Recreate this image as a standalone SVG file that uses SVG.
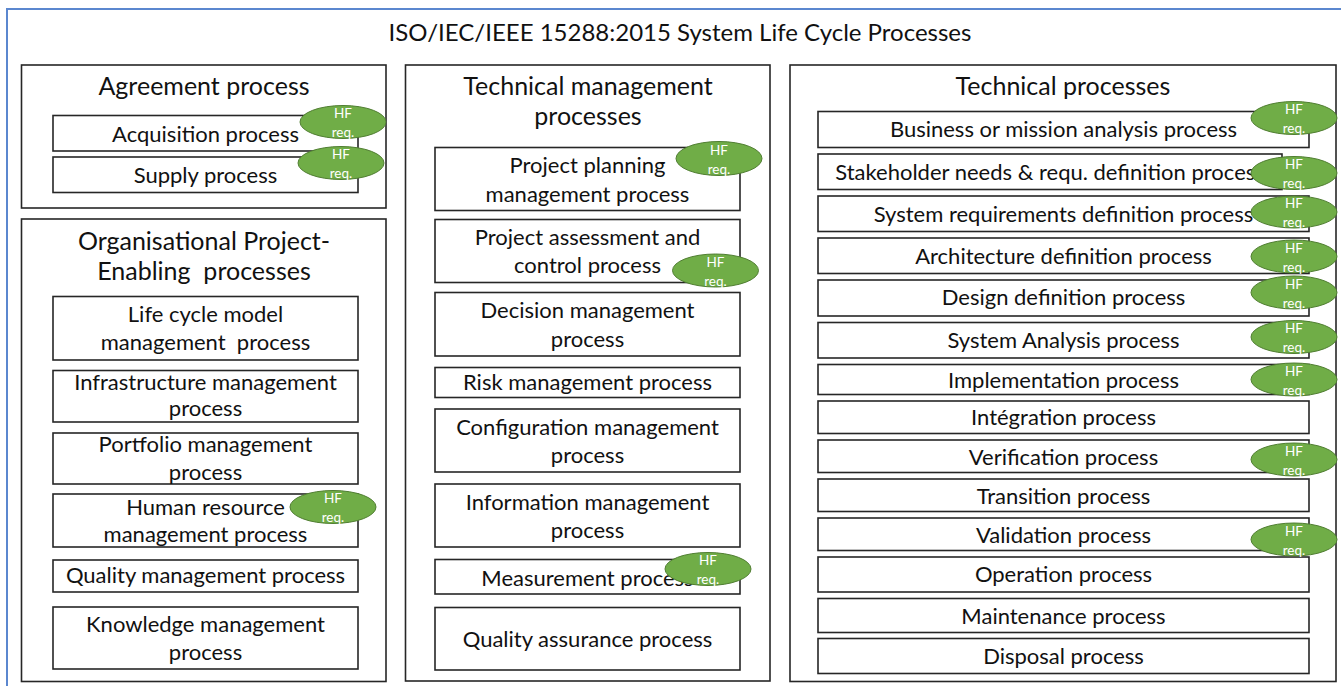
<svg xmlns="http://www.w3.org/2000/svg" width="1341" height="686" viewBox="0 0 1341 686">
  <defs>
    <style>
      text { font-family: Lato, "Open Sans", sans-serif; fill: #111; text-anchor: middle; white-space: pre; }
      .title { font-size: 24px; }
      .group-title { font-size: 25px; }
      .label { font-size: 22px; }
      .group { fill: #fff; stroke: #262626; stroke-width: 1.6; }
      .box { fill: #fff; stroke: #262626; stroke-width: 1.6; }
      .hf { fill: #70ad47; stroke: #507e32; stroke-width: 1; }
      .hf-text { font-size: 13.5px; fill: #fff; }
    </style>
  </defs>

  <rect width="1341" height="686" fill="#fff"/>
  <!-- outer frame, open to the right and bottom edges -->
  <rect x="7" y="9" width="1360" height="700" fill="none" stroke="#5b87cf" stroke-width="2"/>
  <text class="title" x="680" y="41">ISO/IEC/IEEE 15288:2015 System Life Cycle Processes</text>

  <!-- Agreement processes -->
  <g id="agreement">
    <rect class="group" x="21.5" y="65" width="364.5" height="143"/>
    <text class="group-title" x="204" y="95">Agreement process</text>
    <g id="acquisition">
      <rect class="box" x="53" y="115.5" width="305" height="35.5"/>
      <text class="label" x="205.5" y="141.5">Acquisition process</text>
    </g>
    <g id="supply">
      <rect class="box" x="53" y="157" width="305" height="35.5"/>
      <text class="label" x="205.5" y="182.5">Supply process</text>
    </g>
  </g>

  <!-- Organisational project-enabling processes -->
  <g id="organisational">
    <rect class="group" x="21.5" y="219" width="364.5" height="462.5"/>
    <text class="group-title" x="204" y="250">Organisational Project-</text>
    <text class="group-title" x="204" y="280">Enabling  processes</text>
    <g id="life-cycle-model">
      <rect class="box" x="53" y="296.5" width="305" height="63.5"/>
      <text class="label" x="205.5" y="322">Life cycle model</text>
      <text class="label" x="205.5" y="350">management  process</text>
    </g>
    <g id="infrastructure">
      <rect class="box" x="53" y="370.5" width="305" height="51.5"/>
      <text class="label" x="205.5" y="390">Infrastructure management</text>
      <text class="label" x="205.5" y="415.5">process</text>
    </g>
    <g id="portfolio">
      <rect class="box" x="53" y="433" width="305" height="51"/>
      <text class="label" x="205.5" y="451.5">Portfolio management</text>
      <text class="label" x="205.5" y="480">process</text>
    </g>
    <g id="human-resource">
      <rect class="box" x="53" y="494" width="305" height="53"/>
      <text class="label" x="205.5" y="515">Human resource</text>
      <text class="label" x="205.5" y="541.5">management process</text>
    </g>
    <g id="quality-management">
      <rect class="box" x="53" y="560" width="305" height="32"/>
      <text class="label" x="205.5" y="583">Quality management process</text>
    </g>
    <g id="knowledge">
      <rect class="box" x="53" y="607" width="305" height="62"/>
      <text class="label" x="205.5" y="631.5">Knowledge management</text>
      <text class="label" x="205.5" y="660">process</text>
    </g>
  </g>

  <!-- Technical management processes -->
  <g id="technical-management">
    <rect class="group" x="405.5" y="65" width="364.5" height="616"/>
    <text class="group-title" x="588" y="95">Technical management</text>
    <text class="group-title" x="588" y="125">processes</text>
    <g id="project-planning">
      <rect class="box" x="435" y="147.5" width="305" height="63"/>
      <text class="label" x="587.5" y="173">Project planning</text>
      <text class="label" x="587.5" y="201.5">management process</text>
    </g>
    <g id="project-assessment">
      <rect class="box" x="435" y="219.5" width="305" height="63"/>
      <text class="label" x="587.5" y="245">Project assessment and</text>
      <text class="label" x="587.5" y="273">control process</text>
    </g>
    <g id="decision">
      <rect class="box" x="435" y="292.5" width="305" height="63.5"/>
      <text class="label" x="587.5" y="318">Decision management</text>
      <text class="label" x="587.5" y="346.5">process</text>
    </g>
    <g id="risk">
      <rect class="box" x="435" y="367.5" width="305" height="30"/>
      <text class="label" x="587.5" y="389.5">Risk management process</text>
    </g>
    <g id="configuration">
      <rect class="box" x="435" y="409" width="305" height="63"/>
      <text class="label" x="587.5" y="435">Configuration management</text>
      <text class="label" x="587.5" y="462.5">process</text>
    </g>
    <g id="information">
      <rect class="box" x="435" y="484" width="305" height="63"/>
      <text class="label" x="587.5" y="510">Information management</text>
      <text class="label" x="587.5" y="537.5">process</text>
    </g>
    <g id="measurement">
      <rect class="box" x="435" y="559.5" width="305" height="34.5"/>
      <text class="label" x="587.5" y="586">Measurement process</text>
    </g>
    <g id="quality-assurance">
      <rect class="box" x="435" y="607.5" width="305" height="62.5"/>
      <text class="label" x="587.5" y="646.5">Quality assurance process</text>
    </g>
  </g>

  <!-- Technical processes -->
  <g id="technical">
    <rect class="group" x="790" y="65" width="546" height="616.5"/>
    <text class="group-title" x="1063" y="95">Technical processes</text>
    <g id="business-mission">
      <rect class="box" x="818" y="111.5" width="491" height="36"/>
      <text class="label" x="1063.5" y="137">Business or mission analysis process</text>
    </g>
    <g id="stakeholder-needs">
      <rect class="box" x="818" y="154" width="464" height="35.5"/>
      <text class="label" x="1050" y="180">Stakeholder needs &amp; requ. definition process</text>
    </g>
    <g id="system-requirements">
      <rect class="box" x="818" y="196" width="491" height="35.5"/>
      <text class="label" x="1063.5" y="222">System requirements definition process</text>
    </g>
    <g id="architecture">
      <rect class="box" x="818" y="238" width="491" height="35.5"/>
      <text class="label" x="1063.5" y="264">Architecture definition process</text>
    </g>
    <g id="design">
      <rect class="box" x="818" y="280" width="491" height="36"/>
      <text class="label" x="1063.5" y="305">Design definition process</text>
    </g>
    <g id="system-analysis">
      <rect class="box" x="818" y="322.5" width="491" height="35.5"/>
      <text class="label" x="1063.5" y="347.5">System Analysis process</text>
    </g>
    <g id="implementation">
      <rect class="box" x="818" y="364.5" width="491" height="30"/>
      <text class="label" x="1063.5" y="387.5">Implementation process</text>
    </g>
    <g id="integration">
      <rect class="box" x="818" y="401" width="491" height="32.5"/>
      <text class="label" x="1063.5" y="425">Intégration process</text>
    </g>
    <g id="verification">
      <rect class="box" x="818" y="440" width="491" height="32.5"/>
      <text class="label" x="1063.5" y="464.5">Verification process</text>
    </g>
    <g id="transition">
      <rect class="box" x="818" y="479" width="491" height="32.5"/>
      <text class="label" x="1063.5" y="503.5">Transition process</text>
    </g>
    <g id="validation">
      <rect class="box" x="818" y="518" width="491" height="32.5"/>
      <text class="label" x="1063.5" y="542.5">Validation process</text>
    </g>
    <g id="operation">
      <rect class="box" x="818" y="557" width="491" height="35"/>
      <text class="label" x="1063.5" y="582">Operation process</text>
    </g>
    <g id="maintenance">
      <rect class="box" x="818" y="598.5" width="491" height="34"/>
      <text class="label" x="1063.5" y="623.5">Maintenance process</text>
    </g>
    <g id="disposal">
      <rect class="box" x="818" y="638.5" width="491" height="35"/>
      <text class="label" x="1063.5" y="663.5">Disposal process</text>
    </g>
  </g>

  <!-- "HF req." markers, drawn over the boxes -->
  <g id="hf-markers">
    <g id="hf-acquisition"><ellipse class="hf" cx="343" cy="122" rx="43" ry="16.5"/><text class="hf-text" x="343" y="118">HF</text><text class="hf-text" x="343" y="137">req.</text></g>
    <g id="hf-supply"><ellipse class="hf" cx="341" cy="163" rx="43" ry="16.5"/><text class="hf-text" x="341" y="159">HF</text><text class="hf-text" x="341" y="178">req.</text></g>
    <g id="hf-human-resource"><ellipse class="hf" cx="333" cy="507" rx="43" ry="16.5"/><text class="hf-text" x="333" y="503">HF</text><text class="hf-text" x="333" y="522">req.</text></g>
    <g id="hf-project-planning"><ellipse class="hf" cx="719" cy="158.5" rx="43" ry="17"/><text class="hf-text" x="719" y="154.5">HF</text><text class="hf-text" x="719" y="173.5">req.</text></g>
    <g id="hf-project-assessment"><ellipse class="hf" cx="715.5" cy="270.5" rx="43" ry="16.5"/><text class="hf-text" x="715.5" y="266.5">HF</text><text class="hf-text" x="715.5" y="285.5">req.</text></g>
    <g id="hf-measurement"><ellipse class="hf" cx="708" cy="569" rx="43" ry="16.5"/><text class="hf-text" x="708" y="565">HF</text><text class="hf-text" x="708" y="584">req.</text></g>
    <g id="hf-business-mission"><ellipse class="hf" cx="1294" cy="118" rx="43" ry="16.5"/><text class="hf-text" x="1294" y="114">HF</text><text class="hf-text" x="1294" y="133">req.</text></g>
    <g id="hf-stakeholder-needs"><ellipse class="hf" cx="1294" cy="173" rx="43" ry="16.5"/><text class="hf-text" x="1294" y="169">HF</text><text class="hf-text" x="1294" y="188">req.</text></g>
    <g id="hf-system-requirements"><ellipse class="hf" cx="1294" cy="212" rx="43" ry="16"/><text class="hf-text" x="1294" y="208">HF</text><text class="hf-text" x="1294" y="227">req.</text></g>
    <g id="hf-architecture"><ellipse class="hf" cx="1294" cy="256.5" rx="43" ry="16.5"/><text class="hf-text" x="1294" y="252.5">HF</text><text class="hf-text" x="1294" y="271.5">req.</text></g>
    <g id="hf-design"><ellipse class="hf" cx="1294" cy="292.5" rx="43" ry="16.5"/><text class="hf-text" x="1294" y="288.5">HF</text><text class="hf-text" x="1294" y="307.5">req.</text></g>
    <g id="hf-system-analysis"><ellipse class="hf" cx="1294" cy="337" rx="43" ry="16.5"/><text class="hf-text" x="1294" y="333">HF</text><text class="hf-text" x="1294" y="352">req.</text></g>
    <g id="hf-implementation"><ellipse class="hf" cx="1294" cy="379.5" rx="43" ry="16.5"/><text class="hf-text" x="1294" y="375.5">HF</text><text class="hf-text" x="1294" y="394.5">req.</text></g>
    <g id="hf-verification"><ellipse class="hf" cx="1294" cy="459.5" rx="43" ry="16.5"/><text class="hf-text" x="1294" y="455.5">HF</text><text class="hf-text" x="1294" y="474.5">req.</text></g>
    <g id="hf-validation"><ellipse class="hf" cx="1294" cy="539.5" rx="43" ry="16.5"/><text class="hf-text" x="1294" y="535.5">HF</text><text class="hf-text" x="1294" y="554.5">req.</text></g>
  </g>
</svg>
